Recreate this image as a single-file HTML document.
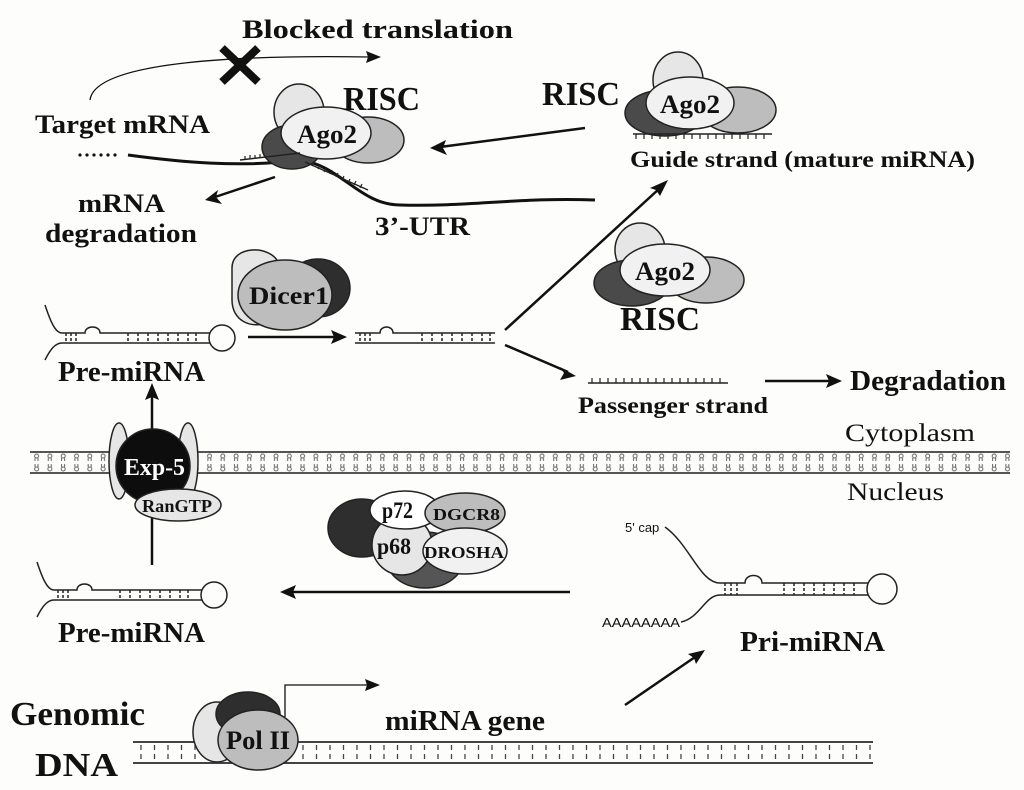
<!DOCTYPE html>
<html><head><meta charset="utf-8"><style>
html,body{margin:0;padding:0;background:#fdfdfb;}
svg{display:block;}
text{font-family:"Liberation Serif",serif;font-weight:bold;fill:#111;}
</style></head><body>
<svg width="1024" height="790" viewBox="0 0 1024 790" xmlns="http://www.w3.org/2000/svg">
<defs>
<pattern id="lip" x="30" y="452" width="13.3" height="21" patternUnits="userSpaceOnUse">
<g stroke="#666" stroke-width="1" fill="none">
<circle cx="6.6" cy="4" r="2"/><path d="M5 6 L5 9 M8 6 L8 9"/>
<circle cx="6.6" cy="17" r="2"/><path d="M5 12 L5 15 M8 12 L8 15"/>
</g></pattern>
<pattern id="dna" x="0" y="742" width="13.5" height="21" patternUnits="userSpaceOnUse">
<path d="M6 3 L6 8 M6 12 L6 17" stroke="#444" stroke-width="1.3"/></pattern>
</defs>
<rect width="1024" height="790" fill="#fdfdfb"/>

<rect x="30" y="452" width="980" height="21" fill="url(#lip)"/>
<line x1="30" y1="452" x2="1010" y2="452" stroke="#555" stroke-width="2"/>
<line x1="30" y1="473" x2="1010" y2="473" stroke="#555" stroke-width="2"/>

<rect x="133" y="742" width="740" height="21" fill="url(#dna)"/>
<line x1="133" y1="742" x2="873" y2="742" stroke="#444" stroke-width="2"/>
<line x1="133" y1="763" x2="873" y2="763" stroke="#444" stroke-width="2"/>

<g fill="none" stroke="#111" stroke-width="2.5">
<path d="M90 100 C95 60 250 55 370 57" stroke-width="1.3"/>
<line x1="585" y1="128" x2="440" y2="147"/>
<line x1="275" y1="177" x2="215" y2="197"/>
<line x1="248" y1="337" x2="335" y2="337"/>
<line x1="505" y1="330" x2="660" y2="188"/>
<line x1="505" y1="345" x2="568" y2="372"/>
<line x1="765" y1="381" x2="830" y2="381"/>
<line x1="152" y1="565" x2="152" y2="395"/>
<line x1="570" y1="592" x2="290" y2="592"/>
<line x1="625" y1="705" x2="698" y2="655"/>
<path d="M285 717 L285 685 L370 685" stroke-width="1.3"/>
<path d="M128 155 C180 162 240 168 300 160 C340 165 360 205 400 205 C470 207 520 197 595 200" stroke-width="3"/>
</g>
<g fill="#111">
<path d="M381 57 L366 51 L368 57 L366 63 Z"/>
<path d="M380 685 L365 679 L367 685 L365 691 Z"/>
<path d="M430 148 L446 140 L443 148 L447 155 Z"/>
<path d="M205 200 L218 190 L216 197 L222 204 Z"/>
<path d="M347 337 L331 330 L334 337 L331 344 Z"/>
<path d="M668 180 L650 188 L656 190 L660 196 Z"/>
<path d="M576 376 L560 367 L564 373 L560 380 Z"/>
<path d="M842 381 L826 374 L829 381 L826 388 Z"/>
<path d="M152 383 L145 400 L152 397 L159 400 Z"/>
<path d="M280 592 L296 585 L293 592 L296 599 Z"/>
<path d="M705 650 L688 654 L694 658 L696 664 Z"/>
<circle cx="80" cy="155" r="1.6"/><circle cx="87" cy="155" r="1.6"/><circle cx="94" cy="155" r="1.6"/><circle cx="101" cy="155" r="1.6"/><circle cx="108" cy="155" r="1.6"/><circle cx="115" cy="155" r="1.6"/>
</g>
<path d="M222 48 L258 82 M258 48 L222 82" stroke="#111" stroke-width="8"/>

<g stroke="#222" stroke-width="1.5">
<ellipse cx="299" cy="112" rx="25" ry="28" fill="#e6e6e6"/>
<ellipse cx="292" cy="147" rx="30" ry="22" fill="#4a4a4a"/>
<ellipse cx="368" cy="140" rx="36" ry="23" fill="#bdbdbd"/>
<ellipse cx="326" cy="133" rx="45" ry="26" fill="#f1f1f1"/>
</g>
<path d="M240 160 L300 153 M305 162 L368 190" stroke="#222" stroke-width="1.5"/>
<path d="M245 160 v-4 M250 159 v-4 M255 159 v-4 M260 158 v-4 M312 166 l2 -4 M318 169 l2 -4 M324 172 l2 -4 M330 174 l2 -4 M336 177 l2 -4 M342 180 l2 -4 M348 183 l2 -4 M354 185 l2 -4 M360 188 l2 -4" stroke="#222" stroke-width="1.2"/>
<text x="297" y="143" font-size="26" textLength="60" lengthAdjust="spacingAndGlyphs">Ago2</text>

<g stroke="#222" stroke-width="1.5">
<ellipse cx="678" cy="80" rx="25" ry="28" fill="#e6e6e6"/>
<ellipse cx="665" cy="113" rx="40" ry="23" fill="#4a4a4a"/>
<ellipse cx="738" cy="110" rx="38" ry="23" fill="#bdbdbd"/>
<ellipse cx="690" cy="103" rx="44" ry="26" fill="#f1f1f1"/>
</g>
<text x="660" y="113" font-size="26" textLength="60" lengthAdjust="spacingAndGlyphs">Ago2</text>
<line x1="633" y1="134" x2="772" y2="134" stroke="#222" stroke-width="1.5"/>
<path d="M636 134 v5 M644 134 v5 M652 134 v5 M660 134 v5 M668 134 v5 M676 134 v5 M684 134 v5 M692 134 v5 M700 134 v5 M708 134 v5 M716 134 v5 M724 134 v5 M732 134 v5 M740 134 v5 M748 134 v5 M756 134 v5 M764 134 v5" stroke="#222" stroke-width="1.2"/>

<g stroke="#222" stroke-width="1.5">
<ellipse cx="640" cy="250" rx="25" ry="27" fill="#e6e6e6"/>
<ellipse cx="632" cy="283" rx="38" ry="23" fill="#4a4a4a"/>
<ellipse cx="706" cy="280" rx="38" ry="23" fill="#bdbdbd"/>
<ellipse cx="665" cy="270" rx="45" ry="26" fill="#f1f1f1"/>
</g>
<text x="635" y="280" font-size="26" textLength="60" lengthAdjust="spacingAndGlyphs">Ago2</text>

<line x1="588" y1="383" x2="728" y2="383" stroke="#222" stroke-width="1.5"/>
<path d="M592 383 v-5 M600 383 v-5 M608 383 v-5 M616 383 v-5 M624 383 v-5 M632 383 v-5 M640 383 v-5 M648 383 v-5 M656 383 v-5 M664 383 v-5 M672 383 v-5 M680 383 v-5 M688 383 v-5 M696 383 v-5 M704 383 v-5 M712 383 v-5 M720 383 v-5" stroke="#222" stroke-width="1.2"/>

<g stroke="#222" stroke-width="1.5">
<path d="M232 268 C232 245 270 245 278 262 L270 322 C250 330 232 320 232 300 Z" fill="#e6e6e6"/>
<ellipse cx="318" cy="288" rx="32" ry="29" fill="#2e2e2e"/>
<ellipse cx="285" cy="295" rx="47" ry="35" fill="#bdbdbd"/>
</g>
<text x="249" y="304" font-size="25" textLength="80" lengthAdjust="spacingAndGlyphs">Dicer1</text>

<g id="hp" fill="none" stroke="#222" stroke-width="1.5">
<path d="M45 305 C50 320 55 333 62 333 L85 333 C85 325 100 325 100 333 L210 333"/>
<path d="M45 360 C50 350 55 343 62 343 L210 343"/>
<circle cx="222" cy="338" r="13"/>
<path d="M66 333v10 M71 333v10 M76 333v10 M128 333v10 M138 333v10 M148 333v10 M158 333v10 M168 333v10 M178 333v10 M188 333v10 M196 333v10" stroke-dasharray="3 2"/>
</g>
<use href="#hp" transform="translate(-8,257)"/>
<g fill="none" stroke="#222" stroke-width="1.5">
<path d="M355 333 L380 333 C380 325 393 325 393 333 L495 333 M355 343 L495 343"/>
<path d="M360 333v10 M365 333v10 M370 333v10 M422 333v10 M432 333v10 M442 333v10 M452 333v10 M462 333v10 M472 333v10 M482 333v10 M490 333v10" stroke-dasharray="3 2"/>
</g>
<g fill="none" stroke="#222" stroke-width="1.5">
<path d="M665 527 C690 545 700 583 720 583 L745 583 C745 573 762 573 762 583 L868 583"/>
<path d="M681 622 C700 618 705 595 720 595 L868 595"/>
<circle cx="882" cy="589" r="15"/>
<path d="M725 583v12 M731 583v12 M737 583v12 M784 583v12 M794 583v12 M804 583v12 M814 583v12 M824 583v12 M834 583v12 M844 583v12 M854 583v12" stroke-dasharray="3 2"/>
</g>
<text x="625" y="532" font-size="13" style="font-family:'Liberation Sans',sans-serif;font-weight:normal">5' cap</text>
<text x="602" y="627" font-size="13" textLength="78" lengthAdjust="spacingAndGlyphs" style="font-family:'Liberation Sans',sans-serif;font-weight:normal">AAAAAAAA</text>

<g stroke="#222" stroke-width="1.5">
<ellipse cx="119" cy="461" rx="10" ry="38" fill="#e6e6e6"/>
<ellipse cx="188" cy="461" rx="10" ry="38" fill="#e6e6e6"/>
<circle cx="153" cy="466" r="37" fill="#0d0d0d"/>
<ellipse cx="178" cy="505" rx="43" ry="16" fill="#e6e6e6"/>
</g>
<text x="124" y="475" font-size="24" textLength="61" lengthAdjust="spacingAndGlyphs" style="fill:#fff">Exp-5</text>
<text x="142" y="512" font-size="18" textLength="70" lengthAdjust="spacingAndGlyphs">RanGTP</text>

<g stroke="#222" stroke-width="1.5">
<ellipse cx="362" cy="528" rx="34" ry="29" fill="#2e2e2e"/>
<ellipse cx="425" cy="560" rx="38" ry="28" fill="#555"/>
<ellipse cx="402" cy="545" rx="30" ry="30" fill="#e6e6e6"/>
<ellipse cx="405" cy="510" rx="35" ry="19" fill="#fff"/>
<ellipse cx="465" cy="513" rx="40" ry="20" fill="#bdbdbd"/>
<ellipse cx="465" cy="551" rx="42" ry="23" fill="#f1f1f1"/>
</g>
<text x="382" y="518" font-size="23" textLength="31" lengthAdjust="spacingAndGlyphs">p72</text>
<text x="377" y="554" font-size="23" textLength="34" lengthAdjust="spacingAndGlyphs">p68</text>
<text x="433" y="520" font-size="17" textLength="67" lengthAdjust="spacingAndGlyphs">DGCR8</text>
<text x="424" y="558" font-size="17" textLength="80" lengthAdjust="spacingAndGlyphs">DROSHA</text>

<g stroke="#222" stroke-width="1.5">
<ellipse cx="217" cy="732" rx="24" ry="30" fill="#e6e6e6"/>
<ellipse cx="248" cy="714" rx="32" ry="22" fill="#2e2e2e"/>
<ellipse cx="258" cy="740" rx="40" ry="30" fill="#bdbdbd"/>
</g>
<text x="226" y="749" font-size="26" textLength="64" lengthAdjust="spacingAndGlyphs">Pol II</text>

<text x="242" y="38" font-size="26" textLength="271" lengthAdjust="spacingAndGlyphs">Blocked translation</text>
<text x="343" y="110" font-size="34" textLength="77" lengthAdjust="spacingAndGlyphs">RISC</text>
<text x="35" y="133" font-size="26" textLength="175" lengthAdjust="spacingAndGlyphs">Target mRNA</text>
<text x="78" y="212" font-size="26" textLength="87" lengthAdjust="spacingAndGlyphs">mRNA</text>
<text x="45" y="242" font-size="26" textLength="152" lengthAdjust="spacingAndGlyphs">degradation</text>
<text x="375" y="235" font-size="26" textLength="95" lengthAdjust="spacingAndGlyphs">3’-UTR</text>
<text x="542" y="105" font-size="34" textLength="78" lengthAdjust="spacingAndGlyphs">RISC</text>
<text x="630" y="167" font-size="23" textLength="345" lengthAdjust="spacingAndGlyphs">Guide strand (mature miRNA)</text>
<text x="620" y="330" font-size="34" textLength="80" lengthAdjust="spacingAndGlyphs">RISC</text>
<text x="58" y="381" font-size="28" textLength="147" lengthAdjust="spacingAndGlyphs">Pre-miRNA</text>
<text x="578" y="413" font-size="23" textLength="190" lengthAdjust="spacingAndGlyphs">Passenger strand</text>
<text x="850" y="390" font-size="28" textLength="156" lengthAdjust="spacingAndGlyphs">Degradation</text>
<text x="845" y="441" font-size="25" textLength="130" lengthAdjust="spacingAndGlyphs" style="font-weight:normal">Cytoplasm</text>
<text x="847" y="500" font-size="25" textLength="97" lengthAdjust="spacingAndGlyphs" style="font-weight:normal">Nucleus</text>
<text x="58" y="642" font-size="28" textLength="147" lengthAdjust="spacingAndGlyphs">Pre-miRNA</text>
<text x="740" y="651" font-size="28" textLength="145" lengthAdjust="spacingAndGlyphs">Pri-miRNA</text>
<text x="10" y="725" font-size="34" textLength="135" lengthAdjust="spacingAndGlyphs">Genomic</text>
<text x="35" y="776" font-size="34" textLength="83" lengthAdjust="spacingAndGlyphs">DNA</text>
<text x="385" y="730" font-size="28" textLength="160" lengthAdjust="spacingAndGlyphs">miRNA gene</text>
</svg>
</body></html>
